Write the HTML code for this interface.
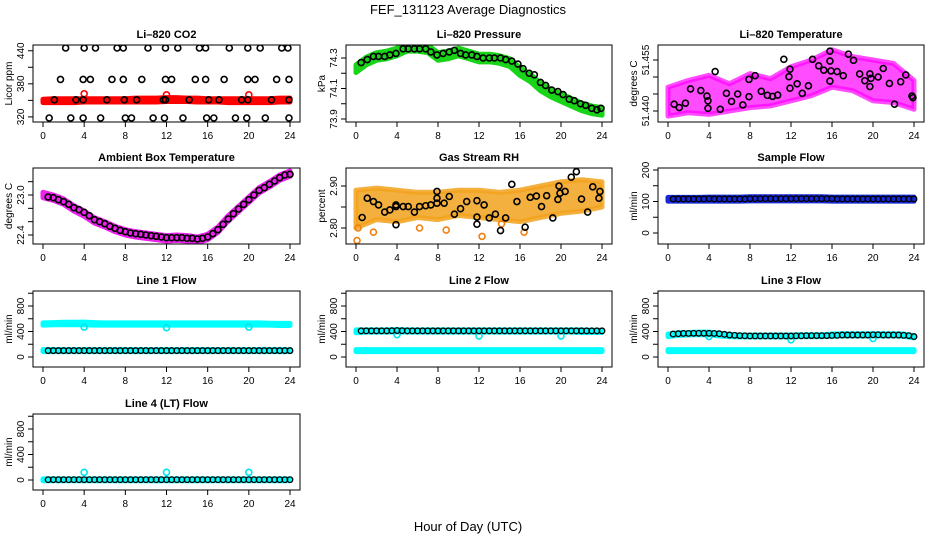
<!DOCTYPE html>
<html><head><meta charset="utf-8"><style>
html,body{margin:0;padding:0;background:#fff;}
svg{display:block;font-family:"Liberation Sans",sans-serif;}
</style></head><body>
<svg id="chart" width="936" height="540" viewBox="0 0 936 540" xmlns="http://www.w3.org/2000/svg">
<rect x="0" y="0" width="936" height="540" fill="#fff"/>
<text x="468" y="14" text-anchor="middle" font-size="13">FEF_131123  Average Diagnostics</text>
<text x="468" y="531" text-anchor="middle" font-size="13">Hour of Day (UTC)</text>
</svg>
<script>
// ---------- data ----------
const xTicks=[0,4,8,12,16,20,24];
const hours=[0,1,2,3,4,5,6,7,8,9,10,11,12,13,14,15,16,17,18,19,20,21,22,23,24];
const hours2=[0,2,4,6,8,10,12,14,16,18,20,22,24];
const T48=[0.5,1,1.5,2,2.5,3,3.5,4,4.5,5,5.5,6,6.5,7,7.5,8,8.5,9,9.5,10,10.5,11,11.5,12,12.5,13,13.5,14,14.5,15,15.5,16,16.5,17,17.5,18,18.5,19,19.5,20,20.5,21,21.5,22,22.5,23,23.5,24];

// CO2
const co2Ticks=[320,350,380,410,440];
const co2Labels=['320','','380','','440'];
const co2RedLo=[346,346,346,346,347,347,347,347,347,347,347,347,348,348,348,347,347,347,346,346,346,346,346,347,347];
const co2RedHi=[352,353,353,353,353,353,353,353,353,354,354,354,355,355,354,354,353,353,353,353,353,353,353,354,354];
const co2RedOutT=[4,12,20];
const co2RedOutV=[362,360,360];
const co2BlackT=[2.2,4.0,5.1,7.2,7.8,10.2,11.9,13.1,15.2,15.8,18.1,19.9,21.1,23.2,23.8,
 1.7,3.9,4.6,6.7,7.8,9.6,11.9,12.5,14.8,15.8,17.6,19.9,20.6,22.7,23.9,
 1.1,3.2,3.9,6.2,7.9,9.1,11.7,11.9,14.2,16.1,17.1,19.3,19.9,22.2,23.9,
 0.6,2.7,3.9,5.6,8.0,8.6,10.7,11.8,13.6,15.9,16.6,18.7,19.8,21.6,23.9];
const co2BlackV=[445,445,445,445,445,445,445,445,445,445,445,445,445,445,445,
 388,388,388,388,388,388,388,388,388,388,388,388,388,388,388,
 351,351,351,351,351,351,351,351,351,351,351,351,351,351,351,
 318,318,318,318,318,318,318,318,318,318,318,318,318,318,318];

// Pressure
const presTicks=[73.9,74.0,74.1,74.2,74.3];
const presLabels=['73.9','','74.1','','74.3'];
const presMid=[74.23,74.28,74.31,74.32,74.34,74.37,74.37,74.36,74.31,74.32,74.34,74.32,74.30,74.30,74.29,74.27,74.21,74.17,74.11,74.07,74.04,74.01,73.98,73.96,73.95];
const presBlackT=[0.5,1.1,1.7,2.2,2.8,3.3,3.9,4.6,5.1,5.7,6.2,6.8,7.3,7.9,8.5,9.1,9.6,10.2,10.7,11.3,11.8,12.4,13.0,13.5,14.1,14.6,15.2,15.8,16.3,16.9,17.4,18.0,18.5,19.1,19.7,20.2,20.8,21.3,21.9,22.4,23.0,23.5,23.9];
const presBlackV=[74.27,74.29,74.31,74.31,74.31,74.32,74.33,74.36,74.36,74.36,74.36,74.36,74.34,74.32,74.33,74.34,74.35,74.33,74.32,74.32,74.31,74.30,74.30,74.30,74.30,74.29,74.28,74.26,74.23,74.20,74.19,74.14,74.12,74.09,74.08,74.06,74.03,74.02,74.00,73.99,73.97,73.96,73.97];

// Li-820 temperature
const ltTicks=[51.440,51.445,51.450,51.455];
const ltLabels=['51.440','','','51.455'];
const ltLo=[51.4385,51.4395,51.4390,51.4400,51.4410,51.4415,51.4430,51.4445,51.4470,51.4460,51.4430,51.4425,51.4405];
const ltHi=[51.4470,51.4490,51.4505,51.4480,51.4510,51.4495,51.4530,51.4550,51.4580,51.4560,51.4550,51.4540,51.4490];
const ltBlackT=[0.6,1.1,1.7,2.2,3.2,3.8,3.9,3.9,4.6,5.1,5.7,6.2,6.8,7.3,7.9,7.9,8.5,9.1,9.7,10.2,10.7,11.3,11.8,11.9,11.9,12.6,13.1,13.7,14.1,14.7,15.2,15.8,15.8,15.9,15.8,16.5,17.1,17.6,18.1,18.7,19.2,19.7,19.8,19.7,20.5,21.0,21.6,22.1,22.7,23.2,23.8,23.9];
const ltBlackV=[51.4420,51.4410,51.4423,51.4465,51.4460,51.4444,51.4430,51.4408,51.4516,51.4405,51.4452,51.4428,51.4450,51.4418,51.4442,51.4493,51.4504,51.4458,51.4446,51.4443,51.4447,51.4552,51.4501,51.4523,51.4467,51.4480,51.4452,51.4474,51.4552,51.4533,51.4520,51.4576,51.4547,51.4518,51.4488,51.4516,51.4504,51.4567,51.4549,51.4509,51.4489,51.4509,51.4496,51.4472,51.4500,51.4525,51.4481,51.4420,51.4486,51.4506,51.4444,51.4439];

// Ambient box temperature
const ambTicks=[22.4,22.6,22.8,23.0,23.2];
const ambLabels=['22.4','','','23.0',''];
const ambMid=[23.00,22.96,22.90,22.80,22.72,22.62,22.56,22.49,22.44,22.41,22.39,22.37,22.35,22.36,22.35,22.33,22.37,22.48,22.65,22.79,22.93,23.07,23.16,23.26,23.32];
const ambBlack=[22.97,22.96,22.93,22.90,22.86,22.81,22.78,22.74,22.69,22.63,22.60,22.57,22.53,22.50,22.47,22.45,22.43,22.42,22.41,22.40,22.39,22.38,22.37,22.36,22.36,22.36,22.36,22.35,22.35,22.34,22.35,22.37,22.42,22.48,22.56,22.64,22.72,22.79,22.86,22.93,23.00,23.07,23.11,23.16,23.21,23.26,23.30,23.31];

// Gas stream RH
const rhTicks=[2.80,2.85,2.90];
const rhLabels=['2.80','','2.90'];
const rhLo=[2.800,2.820,2.815,2.825,2.820,2.830,2.825,2.820,2.815,2.825,2.835,2.840,2.850];
const rhHi=[2.890,2.895,2.890,2.885,2.885,2.890,2.890,2.885,2.890,2.900,2.910,2.915,2.910];
const rhOrangeOutT=[0.1,0.2,1.7,6.2,8.8,12.3,14.2,16.4];
const rhOrangeOutV=[2.770,2.800,2.790,2.800,2.795,2.780,2.810,2.790];
const rhBlackT=[0.6,1.1,1.7,2.2,2.8,3.3,3.9,3.9,3.9,4.6,5.1,5.7,6.2,6.8,7.3,7.9,7.9,7.9,8.6,9.1,9.6,10.2,10.8,11.8,11.8,11.8,12.5,13.0,13.6,14.1,14.6,15.2,15.7,16.5,17.0,17.6,18.1,18.6,19.2,19.7,19.8,19.9,20.4,21.0,22.0,21.5,22.6,23.1,23.7,23.8];
const rhBlackV=[2.825,2.871,2.863,2.855,2.838,2.843,2.851,2.808,2.855,2.851,2.851,2.838,2.851,2.853,2.855,2.887,2.871,2.859,2.859,2.875,2.833,2.846,2.863,2.865,2.826,2.809,2.855,2.824,2.833,2.794,2.824,2.904,2.863,2.802,2.873,2.876,2.851,2.877,2.824,2.868,2.900,2.883,2.887,2.921,2.869,2.934,2.838,2.898,2.871,2.887];

// Sample flow
const sfTicks=[0,50,100,150,200];
const sfLabels=['0','','100','','200'];
const sfLo=[101,101,101,101,101,101,101,101,102,102,102,102,102,102,102,102,101,101,101,101,101,101,101,101,101];
const sfHi=[113,113,113,113,114,114,114,114,115,115,115,115,115,115,115,115,114,114,114,114,114,114,114,114,114];
const sfBlack=[108,108,108,108,108,108,108,109,108,108,108,108,108,108,108,109,109,109,109,109,109,109,109,109,109,109,109,109,109,109,109,109,108,108,108,108,108,108,108,108,108,108,108,108,108,108,108,108];

// Line flows (shared)
const flTicks=[0,200,400,600,800,1000];
const flLabels=['0','','400','','800',''];
const cyanOutT=[4,12,20];

const l1UpLo=[500,505,505,508,505,500,500,500,500,500,500,500,500,500,500,500,500,500,500,500,500,500,500,495,495];
const l1UpHi=[535,540,545,545,548,540,535,535,535,535,535,535,535,535,535,535,535,535,535,535,535,535,530,528,528];
const l1LoLo=[85,85,85,85,85,85,85,85,85,85,85,85,85,85,85,85,85,85,85,85,85,85,85,85,85];
const l1LoHi=[115,115,115,115,115,115,115,115,115,115,115,115,115,115,115,115,115,115,115,115,115,115,115,115,115];
const l1Black=[100,100,100,100,100,100,100,100,100,100,100,100,100,100,100,100,100,100,100,100,100,100,100,100,100,100,100,100,100,100,100,100,100,100,100,100,100,100,100,100,100,100,100,100,100,100,100,100];
const l1CyanOut=[470,460,470];

const l2UpLo=[380,390,390,390,395,390,390,390,390,390,390,390,390,390,390,390,390,390,390,390,390,390,385,385,385];
const l2UpHi=[425,425,425,425,430,425,425,425,425,425,425,425,425,425,425,425,425,425,425,425,425,425,425,420,420];
const l2Black=[410,410,410,410,410,410,412,415,412,410,410,410,410,410,410,410,410,410,410,410,410,410,410,410,410,410,410,410,410,410,410,410,410,410,410,410,410,410,410,410,410,410,410,410,410,410,410,410];
const l2CyanOut=[350,330,330];

const l3UpLo=[320,340,345,350,350,330,320,315,315,315,315,315,315,320,320,320,325,330,330,330,330,330,330,325,300];
const l3UpHi=[360,380,385,390,390,370,355,345,345,345,345,345,345,350,350,350,360,365,365,365,365,365,365,360,335];
const l3Black=[360,365,370,370,372,372,372,372,370,365,355,345,340,335,332,330,330,330,330,330,330,330,330,330,332,332,335,335,335,335,335,338,340,345,345,345,345,345,345,348,348,345,345,345,345,340,335,320];
const l3CyanOut=[320,270,290];

const l4Lo=[-12,-12,-12,-12,-12,-12,-12,-12,-12,-12,-12,-12,-12,-12,-12,-12,-12,-12,-12,-12,-12,-12,-12,-12,-12];
const l4Hi=[18,18,18,18,18,18,18,18,18,18,18,18,18,18,18,18,18,18,18,18,18,18,18,18,18];
const l4Black=[5,5,5,5,5,5,5,5,5,5,5,5,5,5,5,5,5,5,5,5,5,5,5,5,5,5,5,5,5,5,5,5,5,5,5,5,5,5,5,5,5,5,5,5,5,5,5,5];
const l4CyanOut=[120,120,120];

// ---------- layout ----------
const colL=[33,346,658], colR=[300,612,924];
const rowT=[45,168,291,414], rowB=[122,244,367,490];
const NS='http://www.w3.org/2000/svg';
const svg=document.getElementById('chart');

function mk(parent,tag,attrs,nm){
  const el=document.createElementNS(NS,tag);
  for(const k in attrs) el.setAttribute(k,attrs[k]);
  
  
  parent.appendChild(el);
  return el;
}
function addMid(mid,d){return [mid.map(v=>v-d),mid.map(v=>v+d)];}

const panels=[
 {key:'co2',title:'Li\u2013820 CO2',c:0,r:0,ylab:'Licor ppm',ref:[445,3,318,73],ticks:co2Ticks,labels:co2Labels},
 {key:'pressure',title:'Li\u2013820 Pressure',c:1,r:0,ylab:'kPa',ref:[74.3,13,73.9,74],ticks:presTicks,labels:presLabels},
 {key:'li820-temp',title:'Li\u2013820 Temperature',c:2,r:0,ylab:'degrees C',ref:[51.455,15,51.440,66],ticks:ltTicks,labels:ltLabels},
 {key:'ambient-temp',title:'Ambient Box Temperature',c:0,r:1,ylab:'degrees C',ref:[23.0,27,22.4,67],ticks:ambTicks,labels:ambLabels},
 {key:'rh',title:'Gas Stream RH',c:1,r:1,ylab:'percent',ref:[2.90,18,2.80,60],ticks:rhTicks,labels:rhLabels},
 {key:'sample-flow',title:'Sample Flow',c:2,r:1,ylab:'ml/min',ref:[200,2,0,65],ticks:sfTicks,labels:sfLabels},
 {key:'line1-flow',title:'Line 1 Flow',c:0,r:2,ylab:'ml/min',ref:[800,15,0,66],ticks:flTicks,labels:flLabels},
 {key:'line2-flow',title:'Line 2 Flow',c:1,r:2,ylab:'ml/min',ref:[800,15,0,66],ticks:flTicks,labels:flLabels},
 {key:'line3-flow',title:'Line 3 Flow',c:2,r:2,ylab:'ml/min',ref:[800,15,0,66],ticks:flTicks,labels:flLabels},
 {key:'line4-flow',title:'Line 4 (LT) Flow',c:0,r:3,ylab:'ml/min',ref:[800,15,0,66],ticks:flTicks,labels:flLabels}
];

function band(g,P,ts,lo,hi,color,nm,op){
  const pts=[];
  for(let i=0;i<ts.length;i++) pts.push(P.x(ts[i])+','+P.y(hi[i]));
  for(let i=ts.length-1;i>=0;i--) pts.push(P.x(ts[i])+','+P.y(lo[i]));
  mk(g,'polygon',{points:pts.join(' '),fill:color,stroke:color,'stroke-width':5,'stroke-linejoin':'round','fill-opacity':op||1,'stroke-opacity':op||1},nm);
}
function pts(g,P,ts,vs,color,nm,r,sw){
  for(let i=0;i<ts.length;i++){
    mk(g,'circle',{cx:P.x(ts[i]),cy:P.y(vs[i]),r:r||3,fill:'none',stroke:color,'stroke-width':sw||1.6},nm);
  }
}

const draw={
 'co2':(g,P)=>{band(g,P,hours,co2RedLo,co2RedHi,'#ff0000','co2-red-band');pts(g,P,co2RedOutT,co2RedOutV,'#ff0000','co2-red-point');pts(g,P,co2BlackT,co2BlackV,'#000','co2-black-point');},
 'pressure':(g,P)=>{const b=addMid(presMid,0.025);band(g,P,hours,b[0],b[1],'#19d419','pressure-green-band');pts(g,P,presBlackT,presBlackV,'#000','pressure-black-point');},
 'li820-temp':(g,P)=>{band(g,P,hours2,ltLo,ltHi,'#ff00ff','li820-temp-magenta-band',0.7);pts(g,P,ltBlackT,ltBlackV,'#000','li820-temp-black-point');},
 'ambient-temp':(g,P)=>{const b=addMid(ambMid,0.04);band(g,P,hours,b[0],b[1],'#ee22ee','ambient-temp-magenta-band');pts(g,P,T48,ambBlack,'#000','ambient-temp-black-point');},
 'rh':(g,P)=>{band(g,P,hours2,rhLo,rhHi,'#f2a21c','rh-orange-band',0.85);pts(g,P,rhOrangeOutT,rhOrangeOutV,'#f08010','rh-orange-point');pts(g,P,rhBlackT,rhBlackV,'#000','rh-black-point');},
 'sample-flow':(g,P)=>{band(g,P,hours,sfLo,sfHi,'#1428d8','sample-flow-blue-band');pts(g,P,T48,sfBlack,'#000','sample-flow-black-point',2.8,1.3);},
 'line1-flow':(g,P)=>{band(g,P,hours,l1UpLo,l1UpHi,'#00ffff','line1-cyan-upper-band');band(g,P,hours,l1LoLo,l1LoHi,'#00ffff','line1-cyan-lower-band');pts(g,P,cyanOutT,l1CyanOut,'#00e5ee','line1-cyan-point');pts(g,P,T48,l1Black,'#000','line1-black-point',2.8,1.3);},
 'line2-flow':(g,P)=>{band(g,P,hours,l2UpLo,l2UpHi,'#00ffff','line2-cyan-upper-band');band(g,P,hours,l1LoLo,l1LoHi,'#00ffff','line2-cyan-lower-band');pts(g,P,cyanOutT,l2CyanOut,'#00e5ee','line2-cyan-point');pts(g,P,T48,l2Black,'#000','line2-black-point',2.8,1.3);},
 'line3-flow':(g,P)=>{band(g,P,hours,l3UpLo,l3UpHi,'#00ffff','line3-cyan-upper-band');band(g,P,hours,l1LoLo,l1LoHi,'#00ffff','line3-cyan-lower-band');pts(g,P,cyanOutT,l3CyanOut,'#00e5ee','line3-cyan-point');pts(g,P,T48,l3Black,'#000','line3-black-point',2.8,1.3);},
 'line4-flow':(g,P)=>{band(g,P,hours,l4Lo,l4Hi,'#00ffff','line4-cyan-band');pts(g,P,cyanOutT,l4CyanOut,'#00e5ee','line4-cyan-point');pts(g,P,T48,l4Black,'#000','line4-black-point',2.8,1.3);}
};

panels.forEach(p=>{
  const L=colL[p.c],R=colR[p.c],T=rowT[p.r],B=rowB[p.r];
  const x0=L+10,x1=R-10;
  const v1=p.ref[0],y1=T+p.ref[1],v2=p.ref[2],y2=T+p.ref[3];
  const P={x:t=>x0+(t/24)*(x1-x0),y:v=>y1+(v-v1)*(y2-y1)/(v2-v1)};
  const g=mk(svg,'g',{},p.key+'-panel');
  const cid='clip-'+p.key;
  const cp=mk(g,'clipPath',{id:cid},p.key+'-clip');
  mk(cp,'rect',{x:L,y:T,width:R-L,height:B-T},p.key+'-clip-rect');
  const plot=mk(g,'g',{'clip-path':'url(#'+cid+')'},p.key+'-plot-area');
  draw[p.key](plot,P);
  mk(g,'rect',{x:L,y:T,width:R-L,height:B-T,fill:'none',stroke:'#000','stroke-width':1},p.key+'-frame');
  const t=mk(g,'text',{x:(L+R)/2,y:T-7,'text-anchor':'middle','font-size':11,'font-weight':'bold'},p.key+'-title');
  t.textContent=p.title;
  xTicks.forEach(v=>{
    const x=P.x(v);
    mk(g,'line',{x1:x,x2:x,y1:B,y2:B+5,stroke:'#000','stroke-width':1},p.key+'-x-tick');
    const tl=mk(g,'text',{x:x,y:B+17,'text-anchor':'middle','font-size':10},p.key+'-x-tick-label');
    tl.textContent=String(v);
  });
  p.ticks.forEach((v,i)=>{
    const y=P.y(v);
    if(y<T-1||y>B+1) return;
    mk(g,'line',{x1:L-5,x2:L,y1:y,y2:y,stroke:'#000','stroke-width':1},p.key+'-y-tick');
    if(p.labels[i]){
      const tl=mk(g,'text',{x:0,y:0,'text-anchor':'middle','font-size':10,transform:'translate('+(L-9)+','+y+') rotate(-90)'},p.key+'-y-tick-label');
      tl.textContent=p.labels[i];
    }
  });
  const yl=mk(g,'text',{x:0,y:0,'text-anchor':'middle','font-size':10,transform:'translate('+(L-21)+','+((T+B)/2)+') rotate(-90)'},p.key+'-y-axis-title');
  yl.textContent=p.ylab;
});
</script>
</body></html>
